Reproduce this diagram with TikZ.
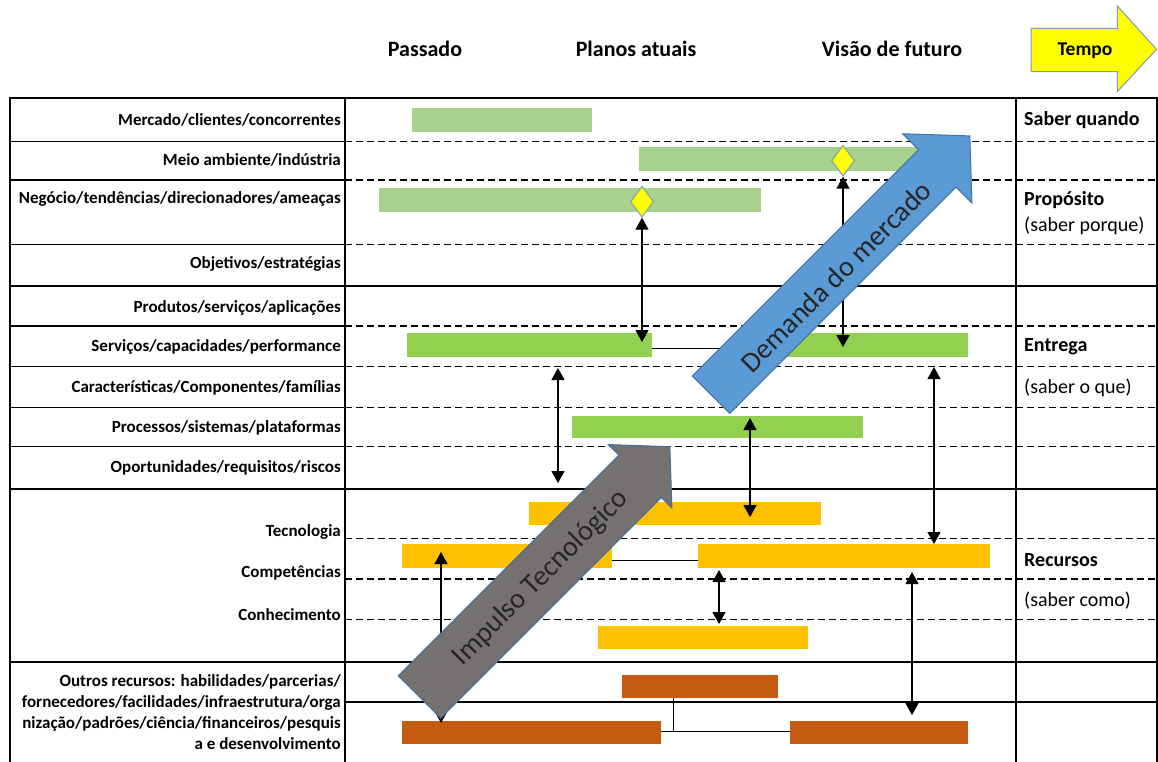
\documentclass[tikz,border=0pt]{standalone}
\usepackage{fontspec}
\setmainfont{Carlito}
\usetikzlibrary{arrows.meta,shapes.geometric}

\definecolor{barlight}{HTML}{A9D18E}
\definecolor{bargreen}{HTML}{92D050}
\definecolor{bargold}{HTML}{FFC000}
\definecolor{barrust}{HTML}{C55A11}
\definecolor{pullblue}{HTML}{5B9BD5}
\definecolor{pushgray}{HTML}{767171}
\definecolor{edgeblue}{HTML}{41719C}
\definecolor{mileyellow}{HTML}{FFFF00}

% a coloured time bar given by its corners (x1,y1) and (x2,y2)
\newcommand\stripnode[6]{%
  \node[barbox, fill=#2, minimum width={(#5-#3)*1pt}, minimum height={(#6-#4)*1pt}]
    (#1) at ({(#3+#5)/2},{(#4+#6)/2}) {};}

\begin{document}
\begin{tikzpicture}[x=1pt,y=-1pt,
  grp/.style={line width=2.6pt},
  rowline/.style={line width=1.1pt},
  dashline/.style={line width=1.1pt, dash pattern=on 7pt off 4pt},
  barbox/.style={rectangle, inner sep=0pt, outer sep=0pt, draw=none},
  lbl/.style={font=\fontsize{17}{21}\selectfont\bfseries, anchor=base east, inner sep=0pt},
  side/.style={font=\fontsize{20}{24}\selectfont, anchor=base west, inner sep=0pt},
  hdr/.style={font=\fontsize{22}{26}\selectfont\bfseries, anchor=base, inner sep=0pt},
  link/.style={line width=1.2pt, {Triangle[width=13pt,length=12pt]}-{Triangle[width=13pt,length=12pt]}},
  joint/.style={line width=1pt},
  milestone/.style={diamond, draw=edgeblue!70, fill=mileyellow, line width=1pt,
    minimum width=23pt, minimum height=31pt, inner sep=0pt},
  bigarrow/.style={draw=edgeblue, line width=1pt},
  arrowtext/.style={font=\fontsize{28.5}{30}\selectfont, anchor=base, inner sep=0pt, text=black!85},
]
\useasboundingbox (0,0) rectangle (1158,762);
\begin{scope}
\clip (0,0) rectangle (1158,762);

% ---- column headers and time arrow
\node[hdr] (hpast) at (425,57) {Passado};
\node[hdr] (hnow) at (636,57) {Planos atuais};
\node[hdr] (hfut) at (892,57) {Visão de futuro};
\draw[fill=mileyellow, draw=edgeblue!70, line width=1pt]
  (1031,28.3) -- (1117.3,28.3) -- (1117.3,6) -- (1156.5,49.3) -- (1117.3,91.7)
  -- (1117.3,71.7) -- (1031,71.7) -- cycle;
\node[font=\fontsize{19.5}{22}\selectfont\bfseries, anchor=base, inner sep=0pt] (htime) at (1085,55.5) {Tempo};

% ---- table frame
\draw[grp] (10,98) -- (1158,98);
\draw[grp] (10,286) -- (1158,286);
\draw[grp] (10,489) -- (1158,489);
\draw[grp] (10,662) -- (1158,662);
\draw[grp] (10,96.7) -- (10,762);
\draw[line width=1.6pt] (345,98) -- (345,762);
\draw[line width=2.3pt] (1016,98) -- (1016,762);
\draw[line width=2pt] (1157,98) -- (1157,762);

% row separators: solid in the label column, dashed elsewhere
\foreach \y in {141.7,180,244.3,326,366.7,407.3,446.7} {
  \draw[rowline] (10,\y) -- (345,\y);
  \draw[dashline] (345,\y) -- (1157,\y);
}
\foreach \y in {538.3,579,619.3}
  \draw[dashline] (345,\y) -- (1157,\y);
\draw[rowline] (345,702) -- (1157,702);

% ---- row labels
\node[lbl] (l1) at (341,125.5) {Mercado/clientes/concorrentes};
\node[lbl] (l2) at (341,165.5) {Meio ambiente/indústria};
\node[lbl] (l3) at (341,203.5) {Negócio/tendências/direcionadores/ameaças};
\node[lbl] (l4) at (341,268.5) {Objetivos/estratégias};
\node[lbl] (l5) at (341,312) {Produtos/serviços/aplicações};
\node[lbl] (l6) at (341,351.5) {Serviços/capacidades/performance};
\node[lbl] (l7) at (341,392) {Características/Componentes/famílias};
\node[lbl] (l8) at (341,432) {Processos/sistemas/plataformas};
\node[lbl] (l9) at (341,472) {Oportunidades/requisitos/riscos};
\node[lbl] (l10) at (341,536) {Tecnologia};
\node[lbl] (l11) at (341,577.7) {Competências};
\node[lbl] (l12) at (341,620) {Conhecimento};
\node[font=\fontsize{17}{21}\selectfont\bfseries, align=right, anchor=east, inner sep=0pt] (l13) at (341,712)
  {Outros recursos: habilidades/parcerias/\\fornecedores/facilidades/infraestrutura/orga\\nização/padrões/ciência/financeiros/pesquis\\a e desenvolvimento};

% ---- right-hand column
\node[side, font=\fontsize{20}{24}\selectfont\bfseries] (r1) at (1024,126) {Saber quando};
\node[side, font=\fontsize{20}{24}\selectfont\bfseries] (r2) at (1024,205) {Propósito};
\node[side] (r3) at (1024,231.7) {(saber porque)};
\node[side, font=\fontsize{20}{24}\selectfont\bfseries] (r4) at (1024,351.7) {Entrega};
\node[side] (r5) at (1024,393.3) {(saber o que)};
\node[side, font=\fontsize{20}{24}\selectfont\bfseries] (r6) at (1024,566) {Recursos};
\node[side] (r7) at (1024,606.7) {(saber como)};

% ---- time bars
\stripnode{M1}{barlight}{412}{108}{592}{132}
\stripnode{M2}{barlight}{639}{147}{925}{171}
\stripnode{M3}{barlight}{379}{188}{761}{212}
\stripnode{S1}{bargreen}{407}{333}{652}{357}
\stripnode{S2}{bargreen}{770}{333}{968}{357}
\stripnode{P1}{bargreen}{572}{416}{863}{438}
\stripnode{T1}{bargold}{529}{502}{821}{525}
\stripnode{C1}{bargold}{402}{544}{612}{568}
\stripnode{C2}{bargold}{698}{544}{990}{568}
\stripnode{K1}{bargold}{598}{626}{808}{649}
\stripnode{O1}{barrust}{622}{675}{778}{698}
\stripnode{O2}{barrust}{402}{721}{661}{744}
\stripnode{O3}{barrust}{790}{721}{968}{744}

% links between bars of one row
\draw[joint] ([yshift=-3pt]S1.east) -- ([yshift=-3pt]S2.west);
\draw[joint] ([yshift=-4pt]C1.east) -- ([yshift=-4pt]C2.west);
\coordinate (oj) at (673,731);
\draw[joint] (O2.east |- oj) -- (O3.west |- oj);
\draw[joint] (O1.south -| oj) -- (oj);

% ---- milestones
\node[milestone] (D1) at (642,201.7) {};
\node[milestone] (D2) at (843,160.7) {};

% ---- vertical dependencies
\coordinate (a1) at (643,342);
\coordinate (a2) at (843,347);
\coordinate (a3s) at (558,368);  \coordinate (a3e) at (558,483);
\coordinate (a4s) at (934,367);  \coordinate (a4e) at (934,544);
\coordinate (a5s) at (750,418);  \coordinate (a5e) at (750,517);
\coordinate (a6s) at (719,570);  \coordinate (a6e) at (719,624);
\coordinate (a7s) at (441,552);  \coordinate (a7e) at (441,723);
\coordinate (a8s) at (912,572);  \coordinate (a8e) at (912,715);
\draw[link] (D1.south) -- (D1.south |- a1);
\draw[link] (D2.south) -- (D2.south |- a2);
\draw[link] (a3s) -- (a3e);
\draw[link] (a4s) -- (a4e);
\draw[link] (a5s) -- (a5e);
\draw[link] (a6s) -- (a6e);
\draw[link] (a7s) -- (a7e);
\draw[link] (a8s) -- (a8e);

% ---- technology push
\begin{scope}[shift={(419.5,697)}, rotate=45]
  \draw[bigarrow, fill=pushgray] (0,-30) -- (312,-30) -- (312,-45) -- (354,0)
    -- (312,45) -- (312,30) -- (0,30) -- cycle;
  \node[arrowtext, rotate=45] (push) at (170,9) {Impulso Tecnológico};
\end{scope}

% ---- market pull
\begin{scope}[shift={(711,394.7)}, rotate=45]
  \draw[bigarrow, fill=pullblue] (0,-26.5) -- (320,-26.5) -- (320,-49) -- (366,0)
    -- (320,49) -- (320,26.5) -- (0,26.5) -- cycle;
  \node[arrowtext, rotate=45] (pull) at (172,14.5) {Demanda do mercado};
\end{scope}

\end{scope}
\end{tikzpicture}
\end{document}
